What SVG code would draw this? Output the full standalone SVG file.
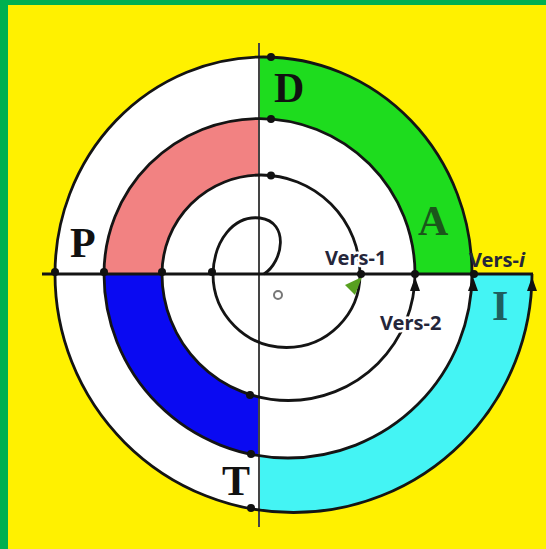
<svg xmlns="http://www.w3.org/2000/svg" width="546" height="549" viewBox="0 0 546 549">
<style>
.spiral{fill:none;stroke:#141414;stroke-width:2.8}
.dot{fill:#111}
.big{font-family:"Liberation Serif",serif;font-weight:bold;font-size:42px}
.vers{font-family:"Noto Sans",sans-serif;font-weight:bold;font-size:20px;fill:#25263a}
.halo{stroke:#fff;stroke-width:5;paint-order:stroke;stroke-linejoin:round}
.arrow{fill:#111}
</style>
<rect x="0" y="0" width="546" height="549" fill="#FFF100"/>
<rect x="0" y="0" width="8" height="549" fill="#00B050"/>
<rect x="0" y="0" width="546" height="5" fill="#00B050"/>
<g id="disk">
<path d="M 472,274 A 208.5 217 0 0 0 55,274 A 238.5 238.5 0 0 0 532,274 Z" fill="#fff"/>
</g>
<g id="region-D-A">
<path d="M 259,57 A 208.5 217 0 0 1 472,274 L 415,274 A 155.5 155.5 0 0 0 259,118.5 Z" fill="#1EDC1E"/>
</g>
<g id="region-pink">
<path d="M 259,118.5 A 155.5 155.5 0 0 0 104,274 L 162,274 A 99 99 0 0 1 259,175 Z" fill="#F28282"/>
</g>
<g id="region-blue">
<path d="M 104,274 A 184 184 0 0 0 259,455.7 L 259,397 A 126.5 126.5 0 0 1 162,274 Z" fill="#0A0AF2"/>
</g>
<g id="region-I">
<path d="M 259,455.7 A 184 184 0 0 0 472,274 L 532,274 A 238.5 238.5 0 0 1 259,510 Z" fill="#44F4F4"/>
</g>
<g id="connectors">
<line x1="259" y1="43" x2="259" y2="527" stroke="#444" stroke-width="2"/>
<line x1="42" y1="274" x2="533" y2="274" stroke="#141414" stroke-width="3.2"/>
<path class="spiral" d="M 264,274 C 283,262 290,222 260,218 C 234,215 214,240 213,274 A 73.5 73.5 0 0 0 360,274 A 99 99 0 0 0 162,274 A 126.5 126.5 0 0 0 415,274 A 155.5 155.5 0 0 0 104,274 A 184 184 0 0 0 472,274 A 208.5 217 0 0 0 55,274 A 238.5 238.5 0 0 0 532,274"/>
<polygon points="362,277 345,285 355,295" fill="#58A020"/>
<polygon class="arrow" points="415,277 410,291 420,291"/>
<polygon class="arrow" points="473,277 468,291 478,291"/>
<polygon class="arrow" points="532,277 527,291 537,291"/>
<circle class="dot" cx="271" cy="57" r="4"/>
<circle class="dot" cx="271" cy="119" r="4"/>
<circle class="dot" cx="271" cy="175.5" r="4"/>
<circle class="dot" cx="55" cy="272" r="4"/>
<circle class="dot" cx="104" cy="272" r="4"/>
<circle class="dot" cx="162" cy="272" r="4"/>
<circle class="dot" cx="212" cy="272" r="4"/>
<circle class="dot" cx="250" cy="395" r="4"/>
<circle class="dot" cx="251" cy="454" r="4"/>
<circle class="dot" cx="251" cy="508" r="4"/>
<circle class="dot" cx="361" cy="274" r="4"/>
<circle class="dot" cx="415" cy="274" r="4"/>
<circle class="dot" cx="474" cy="274" r="4"/>
<circle cx="278" cy="295" r="4" fill="none" stroke="#777" stroke-width="2"/>
</g>
<g id="label-D"><text class="big" x="274" y="102" fill="#111">D</text></g>
<g id="label-A"><text class="big" x="418" y="235" fill="#1B561B">A</text></g>
<g id="label-P"><text class="big" x="70" y="257" fill="#111">P</text></g>
<g id="label-T"><text class="big" x="222" y="495" fill="#111">T</text></g>
<g id="label-I"><text class="big" x="492" y="320" fill="#1E5E5E">I</text></g>
<g id="label-vers1"><text class="vers halo" x="325" y="265">Vers-1</text></g>
<g id="label-vers2"><text class="vers halo" x="380" y="330">Vers-2</text></g>
<g id="label-versi"><text class="vers" x="469" y="267">Vers-<tspan font-style="italic">i</tspan></text></g>
</svg>
